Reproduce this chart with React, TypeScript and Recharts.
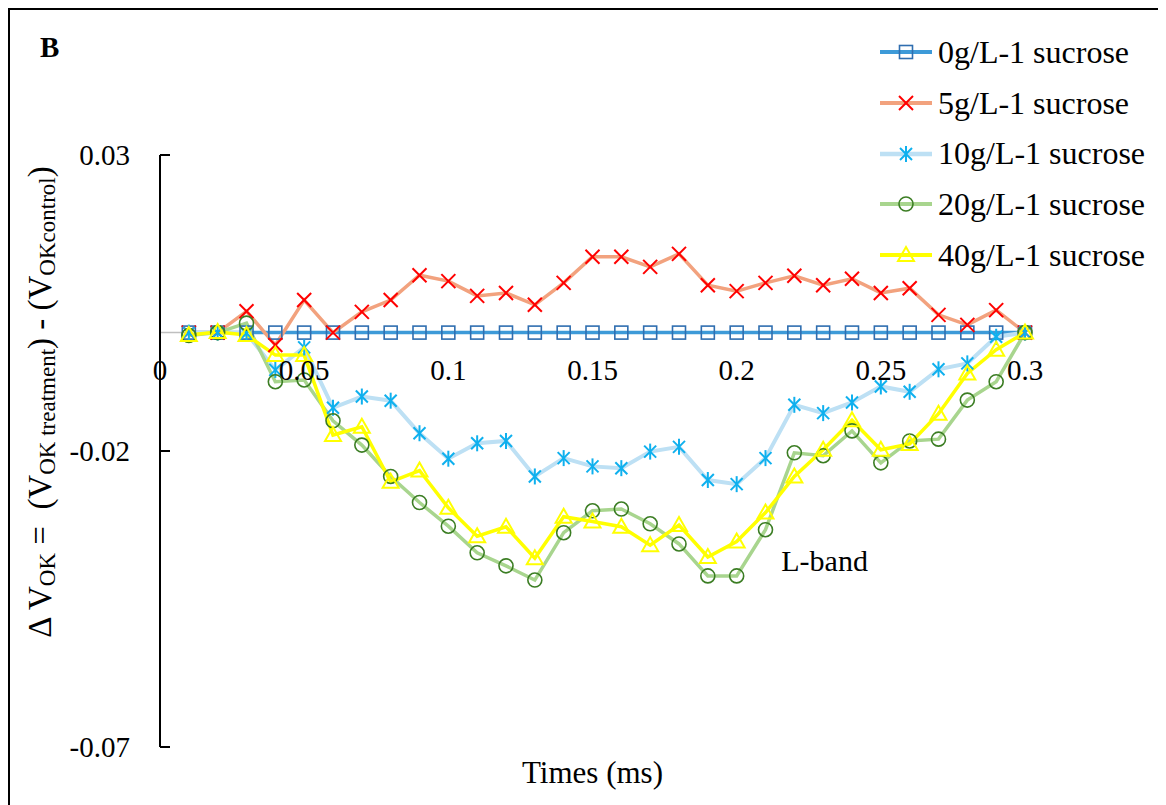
import React from "react";
import { LineChart, Line, XAxis, YAxis, ReferenceLine, ReferenceDot } from "recharts";

const times = [
  0.01, 0.02, 0.03, 0.04, 0.05, 0.06, 0.07, 0.08, 0.09, 0.1,
  0.11, 0.12, 0.13, 0.14, 0.15, 0.16, 0.17, 0.18, 0.19, 0.2,
  0.21, 0.22, 0.23, 0.24, 0.25, 0.26, 0.27, 0.28, 0.29, 0.3,
];

const sucrose0 = [
  0, 0, 0, 0, 0, 0, 0, 0, 0, 0,
  0, 0, 0, 0, 0, 0, 0, 0, 0, 0,
  0, 0, 0, 0, 0, 0, 0, 0, 0, 0,
];
const sucrose5 = [
  0, 0, 0.0036, -0.0021, 0.0055, 0, 0.0035, 0.0055, 0.0097, 0.0087,
  0.0062, 0.0067, 0.0047, 0.0084, 0.0128, 0.0128, 0.0111, 0.0133, 0.008, 0.007,
  0.0084, 0.0096, 0.008, 0.0091, 0.0067, 0.0075, 0.003, 0.0013, 0.0038, 0,
];
const sucrose10 = [
  0, 0, -0.0001, -0.0063, -0.0025, -0.0127, -0.0108, -0.0115, -0.017, -0.0213,
  -0.0187, -0.0183, -0.0243, -0.0212, -0.0226, -0.0229, -0.0201, -0.0193, -0.0249, -0.0256,
  -0.0212, -0.0122, -0.0136, -0.0118, -0.0091, -0.01, -0.0062, -0.0052, -0.0007, 0,
];
const sucrose20 = [
  -0.0005, 0, 0.0016, -0.0083, -0.008, -0.0149, -0.019, -0.0243, -0.0287, -0.0327,
  -0.0372, -0.0394, -0.0418, -0.0338, -0.0301, -0.0298, -0.0323, -0.0357, -0.0411, -0.0411,
  -0.0333, -0.0203, -0.0208, -0.0166, -0.022, -0.0183, -0.018, -0.0114, -0.0083, 0,
];
const sucrose40 = [
  -0.0004, 0.0001, -0.0004, -0.0038, -0.0038, -0.0173, -0.0159, -0.0252, -0.0233, -0.0296,
  -0.0344, -0.0328, -0.0381, -0.0311, -0.0319, -0.0328, -0.0359, -0.0325, -0.0379, -0.0353,
  -0.0304, -0.0243, -0.0198, -0.0148, -0.0198, -0.0188, -0.0137, -0.0069, -0.0029, 0,
];

const xTicks = [0, 0.05, 0.1, 0.15, 0.2, 0.25, 0.3];
const xTickLabels = ["0", "0.05", "0.1", "0.15", "0.2", "0.25", "0.3"];
const yTicks = [0.03, -0.02, -0.07];
const seriesNames = [
  "0g/L-1 sucrose",
  "5g/L-1 sucrose",
  "10g/L-1 sucrose",
  "20g/L-1 sucrose",
  "40g/L-1 sucrose",
];

const FONT = '"Liberation Serif", "Times New Roman", serif';

type MarkerKind = "square" | "x" | "star" | "circle" | "triangle";

const SERIES: {
  key: string;
  values: number[];
  stroke: string;
  width: number;
  marker: MarkerKind;
  markerColor: string;
}[] = [
  { key: "s0", values: sucrose0, stroke: "#3d9ad8", width: 3.5, marker: "square", markerColor: "#2f6eb0" },
  { key: "s5", values: sucrose5, stroke: "#f2a27e", width: 3.5, marker: "x", markerColor: "#ff0000" },
  { key: "s10", values: sucrose10, stroke: "#bde0f4", width: 4, marker: "star", markerColor: "#0fb0ee" },
  { key: "s20", values: sucrose20, stroke: "#a8d58e", width: 3.5, marker: "circle", markerColor: "#3b7d23" },
  { key: "s40", values: sucrose40, stroke: "#ffff00", width: 3.5, marker: "triangle", markerColor: "#ffff00" },
];

const data = times.map((t, i) => {
  const row: Record<string, number> = { t };
  SERIES.forEach((s) => {
    row[s.key] = s.values[i];
  });
  return row;
});

function Marker({ cx, cy, kind, color }: { cx: number; cy: number; kind: MarkerKind; color: string }) {
  if (cx == null || cy == null) return null;
  switch (kind) {
    case "square":
      return <rect x={cx - 6.5} y={cy - 6.5} width={13} height={13} fill="none" stroke={color} strokeWidth={1.6} />;
    case "x":
      return (
        <g stroke={color} strokeWidth={2}>
          <line x1={cx - 7} y1={cy - 7} x2={cx + 7} y2={cy + 7} />
          <line x1={cx - 7} y1={cy + 7} x2={cx + 7} y2={cy - 7} />
        </g>
      );
    case "star":
      return (
        <g stroke={color} strokeWidth={2}>
          <line x1={cx} y1={cy - 8} x2={cx} y2={cy + 8} />
          <line x1={cx - 6} y1={cy - 6} x2={cx + 6} y2={cy + 6} />
          <line x1={cx - 6} y1={cy + 6} x2={cx + 6} y2={cy - 6} />
        </g>
      );
    case "circle":
      return <circle cx={cx} cy={cy} r={7} fill="none" stroke={color} strokeWidth={1.6} />;
    case "triangle":
      return (
        <path
          d={`M${cx},${cy - 8} L${cx + 8},${cy + 6} L${cx - 8},${cy + 6} Z`}
          fill="none"
          stroke={color}
          strokeWidth={2}
        />
      );
  }
  return null;
}

function YTick(props: any) {
  const { x, y, payload } = props;
  return (
    <g>
      <text x={x} y={y} dy={10} textAnchor="end" fontSize={29} fill="#000" fontFamily={FONT}>
        {String(payload.value)}
      </text>
      <line x1={x + 30} x2={x + 40} y1={y} y2={y} stroke="#000" strokeWidth={2} />
    </g>
  );
}

function YLabel(props: any) {
  const vb = props.viewBox || { x: 0, y: 0, width: 0, height: 0 };
  const cx = vb.x + 30;
  const cy = vb.y + vb.height / 2 - 49;
  return (
    <text
      x={cx}
      y={cy}
      transform={`rotate(-90, ${cx}, ${cy})`}
      textAnchor="middle"
      dominantBaseline="central"
      fontSize={33}
      fontFamily={FONT}
      fill="#000"
      xmlSpace="preserve"
    >
      <tspan>{"\u0394 V"}</tspan>
      <tspan fontSize={23} dy={7}>OK</tspan>
      <tspan dy={-7}>{" =  (V"}</tspan>
      <tspan fontSize={23} dy={7}>OK treatment</tspan>
      <tspan dy={-7}>{") - (V"}</tspan>
      <tspan fontSize={23} dy={7}>OKcontrol</tspan>
      <tspan dy={-7}>)</tspan>
    </text>
  );
}

function XLabel(props: any) {
  const vb = props.viewBox || { x: 0, y: 0, width: 0, height: 0 };
  return (
    <text x={vb.x + vb.width / 2} y={vb.y + 36} textAnchor="middle" fontSize={31} fontFamily={FONT} fill="#000">
      Times (ms)
    </text>
  );
}

function LegendBox() {
  return (
    <div style={{ position: "absolute", left: 870, top: 17, fontFamily: FONT, fontSize: 32 }}>
      {SERIES.map((s, i) => (
        <div key={s.key} style={{ display: "flex", alignItems: "center", height: 50.7, whiteSpace: "nowrap" }}>
          <svg width={56} height={24} style={{ overflow: "visible" }}>
            <line x1={0} x2={52} y1={12} y2={12} stroke={s.stroke} strokeWidth={s.width + 0.5} />
            <Marker cx={26} cy={12} kind={s.marker} color={s.markerColor} />
          </svg>
          <span style={{ marginLeft: 2 }}>{seriesNames[i]}</span>
        </div>
      ))}
    </div>
  );
}

export default function App() {
  return (
    <div
      style={{
        position: "relative",
        width: 1156,
        height: 795,
        borderTop: "2px solid #000",
        borderLeft: "2px solid #000",
        fontFamily: FONT,
        background: "#fff",
      }}
    >
      <LineChart width={1156} height={795} data={data} margin={{ top: 145, right: 141, bottom: 0, left: 0 }}>
        <XAxis
          type="number"
          dataKey="t"
          domain={[0, 0.3]}
          height={58}
          tick={false}
          tickLine={false}
          axisLine={false}
          label={<XLabel />}
        />
        <YAxis
          type="number"
          domain={[-0.07, 0.03]}
          ticks={yTicks}
          width={150}
          tickSize={0}
          tickMargin={30}
          tickLine={false}
          axisLine={{ stroke: "#000", strokeWidth: 2 }}
          tick={<YTick />}
          label={<YLabel />}
        />
        <ReferenceLine y={0} stroke="#bfbfbf" strokeWidth={1.5} />
        {SERIES.map((s) => (
          <Line
            key={s.key}
            type="linear"
            dataKey={s.key}
            stroke={s.stroke}
            strokeWidth={s.width}
            isAnimationActive={false}
            dot={(p: any) => (
              <Marker key={`${s.key}-${p.index}`} cx={p.cx} cy={p.cy} kind={s.marker} color={s.markerColor} />
            )}
            activeDot={false}
          />
        ))}
        {xTicks.map((t, i) => (
          <ReferenceDot
            key={`xt-${t}`}
            x={t}
            y={0}
            r={0}
            shape={(p: any) => (
              <text x={p.cx} y={p.cy + 47} textAnchor="middle" fontSize={29} fontFamily={FONT} fill="#000">
                {xTickLabels[i]}
              </text>
            )}
          />
        ))}
        <ReferenceDot
          x={0.2305}
          y={-0.0403}
          r={0}
          shape={(p: any) => (
            <text x={p.cx} y={p.cy} textAnchor="middle" fontSize={30} fontFamily={FONT} fill="#000">
              L-band
            </text>
          )}
        />
      </LineChart>
      <div style={{ position: "absolute", left: 30, top: 23, fontSize: 29, fontWeight: "bold", lineHeight: 1 }}>B</div>
      <LegendBox />
    </div>
  );
}
